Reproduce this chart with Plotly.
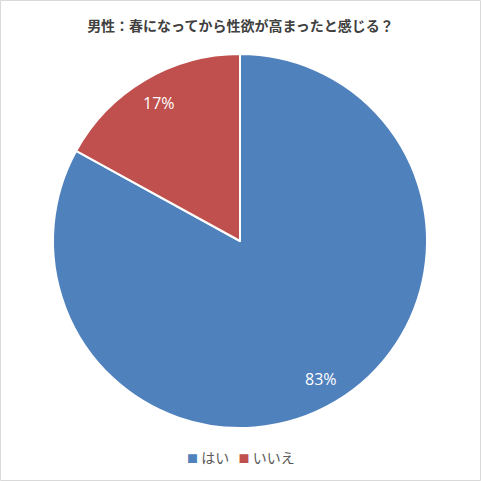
import math
import plotly.graph_objects as go

categories = ["はい", "いいえ"]
values = [83, 17]
colors = ["#4F81BD", "#C0504D"]
title_text = "男性：春になってから性欲が高まったと感じる？"

font_family = "Noto Sans CJK JP, Noto Sans, sans-serif"
label_family = "Open Sans, Noto Sans, sans-serif"

W = H = 481
cx, cy, R = 240, 241, 187

fig = go.Figure(go.Pie(
    labels=categories,
    values=values,
    sort=False,
    direction="clockwise",
    rotation=0,
    marker=dict(colors=colors, line=dict(color="white", width=2)),
    textinfo="none",
    showlegend=False,
    domain=dict(x=[(cx - R) / W, (cx + R) / W], y=[1 - (cy + R) / H, 1 - (cy - R) / H]),
    hoverinfo="skip",
))

# percentage labels placed along each slice's mid-angle (clockwise from top)
total = sum(values)
annotations = []
start = 0.0
for v in values:
    frac = v / total
    mid = (start + frac / 2) * 2 * math.pi
    start += frac
    rr = 0.855 * R
    px = cx + rr * math.sin(mid)
    py = cy - rr * math.cos(mid)
    annotations.append(dict(
        x=px / W, y=1 - py / H, xref="paper", yref="paper",
        text=f"{round(frac * 100)}%", showarrow=False,
        font=dict(color="white", size=16, family=label_family),
        xanchor="center", yanchor="middle",
    ))

# legend drawn as text with coloured squares
legend_parts = []
for lab, col in zip(categories, colors):
    legend_parts.append(f"<span style='color:{col};font-size:11px'>■</span> {lab}")
annotations.append(dict(
    x=0.5, y=1 - 457 / H, xref="paper", yref="paper",
    text="&nbsp;&nbsp;&nbsp;".join(legend_parts), showarrow=False,
    font=dict(color="#595959", size=14, family=font_family),
    xanchor="center", yanchor="middle",
))

fig.update_layout(
    width=W, height=H,
    margin=dict(l=0, r=0, t=0, b=0),
    paper_bgcolor="white",
    plot_bgcolor="white",
    showlegend=False,
    title=dict(text="<b>" + title_text + "</b>", x=0.5, xanchor="center",
               y=1 - 26 / H, yanchor="middle",
               font=dict(size=14, color="#404040", family=font_family)),
    annotations=annotations,
    shapes=[dict(type="rect", xref="paper", yref="paper",
                 x0=0.5 / W, x1=1 - 0.5 / W, y0=0.5 / H, y1=1 - 0.5 / H,
                 line=dict(color="#D9D9D9", width=1))],
)

fig.write_html("out.html", config={"displayModeBar": False},
               post_script="document.body.style.margin='0';document.body.style.overflow='hidden';")
